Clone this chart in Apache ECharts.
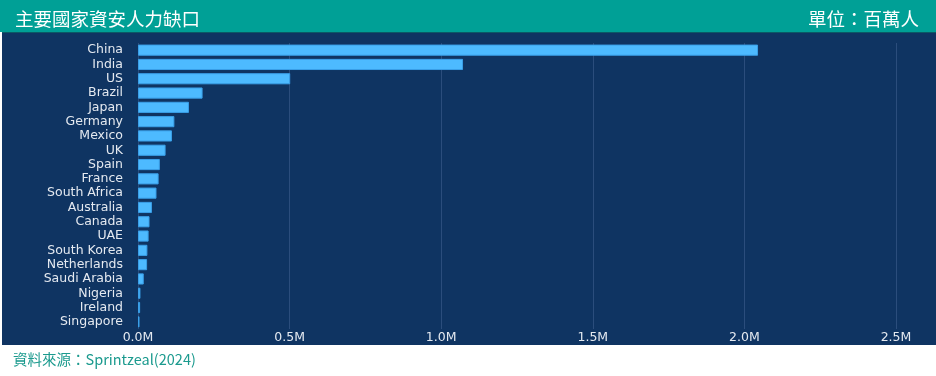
<!DOCTYPE html>
<html>
<head>
<meta charset="utf-8">
<script src="https://cdn.jsdelivr.net/npm/echarts@6/dist/echarts.min.js"></script>
<style>
  html, body { margin: 0; padding: 0; background: #fff; }
  #chart { width: 936px; height: 376px; }
</style>
</head>
<body>
<div id="chart"></div>
<script>
// countries, largest first (yAxis is inverted)
const countries = ['China', 'India', 'US', 'Brazil', 'Japan', 'Germany', 'Mexico', 'UK', 'Spain', 'France',
  'South Africa', 'Australia', 'Canada', 'UAE', 'South Korea', 'Netherlands', 'Saudi Arabia', 'Nigeria', 'Ireland', 'Singapore'];
// shortage, millions of people
const shortage = [2.045, 1.072, 0.502, 0.213, 0.168, 0.12, 0.112, 0.091, 0.072, 0.068,
  0.061, 0.046, 0.038, 0.035, 0.031, 0.03, 0.019, 0.008, 0.007, 0.005];
const xTicks = [0, 0.5, 1.0, 1.5, 2.0, 2.5];

const chart = echarts.init(document.getElementById('chart'));
const labelFont = '"DejaVu Sans", Verdana, sans-serif';

chart.setOption({
  animation: false,
  backgroundColor: '#ffffff',
  graphic: [
    { type: 'rect', z: -10, shape: { x: 0, y: 0, width: 936, height: 32 }, style: { fill: '#00a096' } },
    { type: 'rect', z: -10, shape: { x: 2, y: 32, width: 934, height: 1.5 }, style: { fill: '#0b5a66' } },
    { type: 'rect', z: -10, shape: { x: 2, y: 33, width: 934, height: 312 }, style: { fill: '#0f3462' } },
    {
      type: 'text', left: 13, top: 352, z: 10,
      style: {
        text: '資料來源：Sprintzeal(2024)', fill: '#1b9a8e',
        font: '14.5px "Noto Sans CJK TC", sans-serif'
      }
    }
  ],
  title: [
    {
      text: '主要國家資安人力缺口', left: 10, top: 5,
      textStyle: { color: '#ffffff', fontSize: 18.5, fontWeight: 'normal', fontFamily: 'Noto Sans CJK TC' }
    },
    {
      text: '單位：百萬人', right: 12, top: 5,
      textStyle: { color: '#ffffff', fontSize: 18.5, fontWeight: 'normal', fontFamily: 'Noto Sans CJK TC' }
    }
  ],
  grid: { left: 138, right: 40, top: 43, bottom: 47, containLabel: false },
  xAxis: {
    type: 'value',
    min: 0,
    max: 2.5,
    interval: 0.5,
    axisLine: { show: false },
    axisTick: { show: false },
    splitLine: { show: true, lineStyle: { color: '#2b4d7c', width: 1 } },
    axisLabel: {
      color: '#e4e9f0', fontFamily: labelFont, fontSize: 12.5, margin: 2,
      formatter: v => xTicks.includes(v) ? v.toFixed(1) + 'M' : ''
    }
  },
  yAxis: {
    type: 'category',
    data: countries,
    inverse: true,
    axisLine: { show: false },
    axisTick: { show: false },
    axisLabel: { interval: 0, color: '#e4e9f0', fontFamily: labelFont, fontSize: 12.5, margin: 15 }
  },
  series: [{
    type: 'bar',
    data: shortage,
    barWidth: '78%',
    itemStyle: { color: '#4dbaff', borderColor: '#3a9fe8', borderWidth: 1 }
  }]
});
</script>
</body>
</html>
